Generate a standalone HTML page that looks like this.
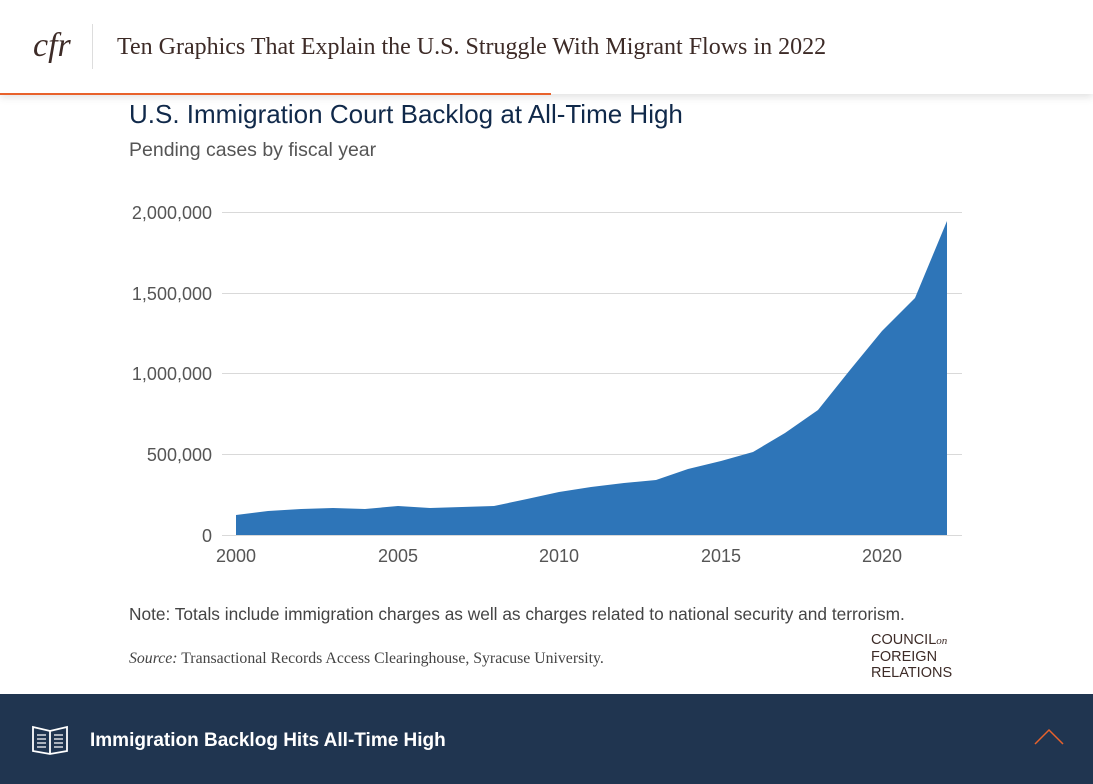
<!DOCTYPE html>
<html><head><meta charset="utf-8"><style>
body{margin:0;width:1093px;height:784px;overflow:hidden;background:#fff;font-family:"Liberation Sans",sans-serif;position:relative}
.hdr{position:absolute;left:0;top:0;width:1093px;height:94px;background:#fff;box-shadow:0 3px 8px rgba(0,0,0,.12)}
.logo{position:absolute;left:33px;top:27px;font-family:"Liberation Serif",serif;font-style:italic;font-size:34px;color:#3d2b27}
.sep{position:absolute;left:92px;top:24px;width:1px;height:45px;background:#ddd}
.ht{position:absolute;left:117px;top:34px;font-family:"Liberation Serif",serif;font-size:24px;color:#3d2b27}
.orange{position:absolute;left:0;top:93px;width:551px;height:2px;background:#e8622c}
.t{position:absolute;left:129px;top:99px;font-size:26px;color:#10294a}
.st{position:absolute;left:129px;top:139px;font-size:19.5px;color:#555}
.foot{position:absolute;left:0;top:694px;width:1093px;height:90px;background:#203550}
</style></head><body>
<div class="hdr"><div class="logo">cfr</div><div class="sep"></div><div class="ht">Ten Graphics That Explain the U.S. Struggle With Migrant Flows in 2022</div></div>
<div class="orange"></div>
<div class="t">U.S. Immigration Court Backlog at All-Time High</div>
<div class="st">Pending cases by fiscal year</div>
<svg width="1093" height="784" style="position:absolute;left:0;top:0" font-family="Liberation Sans, sans-serif">
<g stroke="#d9d9d9" stroke-width="1">
<line x1="222" x2="962" y1="212.5" y2="212.5"/><line x1="222" x2="962" y1="293.5" y2="293.5"/><line x1="222" x2="962" y1="373.5" y2="373.5"/><line x1="222" x2="962" y1="454.5" y2="454.5"/><line x1="222" x2="962" y1="535.5" y2="535.5"/>
</g>
<g font-size="18" fill="#555" text-anchor="end">
<text x="212" y="219">2,000,000</text><text x="212" y="300">1,500,000</text><text x="212" y="380">1,000,000</text><text x="212" y="461">500,000</text><text x="212" y="542">0</text>
</g>
<g font-size="18" fill="#555" text-anchor="middle">
<text x="236" y="562">2000</text><text x="398" y="562">2005</text><text x="559" y="562">2010</text><text x="721" y="562">2015</text><text x="882" y="562">2020</text>
</g>
<polygon fill="#2e75b8" points="236,535 236,515 268,511 301,509 333,508 365,509 398,506 430,508 462,507 494,506 527,499 559,492 591,487 624,483 656,480 688,469 721,461 753,452 785,433 818,410 850,370 882,331 915,298 947,221 947,535"/>
<text x="129" y="620" font-size="17.3" fill="#444">Note: Totals include immigration charges as well as charges related to national security and terrorism.</text>
<text x="129" y="663" font-size="15.8" fill="#444" font-family="Liberation Serif, serif"><tspan font-style="italic">Source:</tspan> Transactional Records Access Clearinghouse, Syracuse University.</text>
<g font-size="14.5" fill="#3d2b27"><text x="871" y="644">COUNCIL<tspan font-family="Liberation Serif, serif" font-style="italic" font-size="11">on</tspan></text><text x="871" y="661">FOREIGN</text><text x="871" y="677">RELATIONS</text></g>
</svg>
<div class="foot">
<svg width="1093" height="90" style="position:absolute;left:0;top:0">
<g fill="none" stroke="#fff" stroke-width="1.8"><path d="M33 33 L50 37 L67 33 L67 57 L50 60 L33 57 Z M50 37 L50 60"/><path d="M37 41h9M37 45h9M37 49h9M37 53h9M54 41h9M54 45h9M54 49h9M54 53h9" stroke-width="1.2"/></g>
<path d="M1035 50 L1049 36 L1063 50" fill="none" stroke="#e8622c" stroke-width="1.5"/>
<text x="90" y="52" font-family="Liberation Sans, sans-serif" font-weight="bold" font-size="19" fill="#fff">Immigration Backlog Hits All-Time High</text>
</svg>
</div>
</body></html>
